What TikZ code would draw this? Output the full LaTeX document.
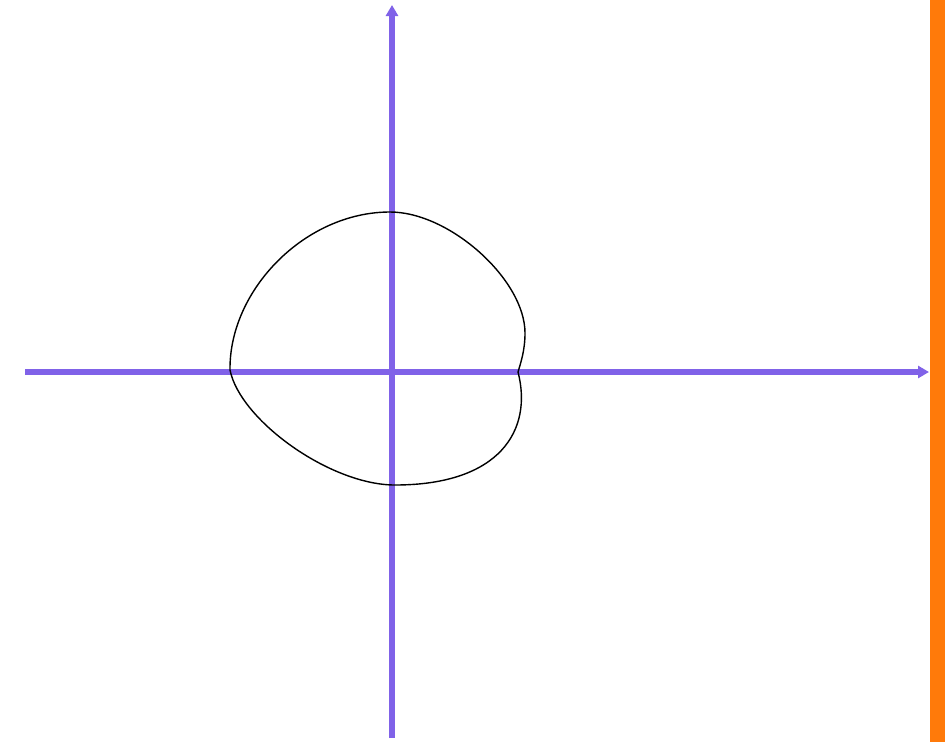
\documentclass[tikz,border=0pt]{standalone}
\usetikzlibrary{arrows.meta}
\definecolor{axispurple}{RGB}{128,98,232}
\definecolor{barorange}{RGB}{255,122,10}
\tikzset{
  axisline/.style={draw=axispurple, line width=5.5pt, -{Triangle[length=11pt,width=12pt]}},
  curveline/.style={draw=black, line width=1.4pt},
}
\begin{document}
\begin{tikzpicture}[x=1pt,y=-1pt]
\useasboundingbox (0,0) rectangle (945,742);
\fill[white] (0,0) rectangle (945,742);
\fill[barorange] (930,0) rectangle (945,742);
\coordinate (xs) at (25,372);
\coordinate (xe) at (929,372);
\coordinate (ys) at (392,738);
\coordinate (ye) at (392,5);
\draw[axisline] (xs) -- (xe);
\draw[axisline] (ys) -- (ye);
\coordinate (L) at (230,370);
\coordinate (T) at (390,212);
\coordinate (M) at (525,333);
\coordinate (R) at (518,372);
\coordinate (B) at (395,485);
\draw[curveline] (L) .. controls (229,290) and (305,212) .. (T)
  .. controls (450,212) and (525,280) .. (M)
  .. controls (525,350) and (521,362) .. (R)
  .. controls (533,430) and (500,485) .. (B)
  .. controls (330,485) and (240,420) .. (L) -- cycle;
\end{tikzpicture}
\end{document}
